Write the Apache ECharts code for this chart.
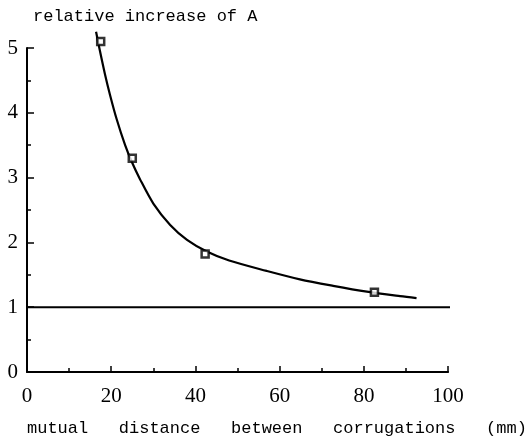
<!DOCTYPE html>
<html>
<head>
<meta charset="utf-8">
<script src="https://cdn.jsdelivr.net/npm/echarts@6/dist/echarts.min.js"></script>
<style>
  html, body { margin: 0; padding: 0; background: #fff; }
  #chart { width: 529px; height: 443px; }
</style>
</head>
<body>
<div id="chart"></div>
<script>
// measured points (mutual distance mm, relative increase)
const measured = [[17.5, 5.1], [25, 3.3], [42.3, 1.82], [82.5, 1.23]];
// fitted curve
const curve = [
  [16.4, 5.25], [17.3, 4.96], [18.5, 4.6], [19.7, 4.28], [21.3, 3.9],
  [23.3, 3.5], [24.9, 3.24], [26.8, 2.98], [30, 2.6], [34, 2.27],
  [38, 2.04], [42.7, 1.86], [48, 1.72], [56.9, 1.56], [64.8, 1.43],
  [72.7, 1.33], [80.7, 1.24], [88.6, 1.17], [92.5, 1.14]
];
// reference level
const baseline = [[0, 1], [101, 1]];

const serif = "Liberation Serif";
const mono = "Liberation Mono";

let chart = echarts.init(document.getElementById("chart"));
chart.setOption({
  animation: false,
  backgroundColor: "#fff",
  title: {
    text: "relative increase of A",
    left: 28,
    top: 3,
    textStyle: { fontFamily: mono, fontSize: 17, fontWeight: "normal", color: "#000" }
  },
  grid: { left: 27, right: 80, top: 48, bottom: 71 },
  xAxis: {
    type: "value",
    min: 0,
    max: 100,
    interval: 20,
    name: "mutual   distance   between   corrugations   (mm)",
    nameLocation: "start",
    nameGap: 0,
    nameTextStyle: {
      fontFamily: mono, fontSize: 17, color: "#000",
      align: "left", verticalAlign: "top", padding: [48, 0, 0, 0]
    },
    axisLine: { lineStyle: { color: "#000", width: 2 } },
    axisTick: { inside: true, length: 6, lineStyle: { color: "#000", width: 1.5 } },
    minorTick: { show: true, splitNumber: 2, length: 4, lineStyle: { color: "#000", width: 1.5 } },
    axisLabel: { fontFamily: serif, fontSize: 21, color: "#000", margin: 14 },
    splitLine: { show: false }
  },
  yAxis: {
    type: "value",
    min: 0,
    max: 5,
    interval: 1,
    axisLine: { show: true, lineStyle: { color: "#000", width: 2 } },
    axisTick: { show: true, inside: true, length: 7, lineStyle: { color: "#000", width: 1.5 } },
    minorTick: { show: true, splitNumber: 2, length: 4, lineStyle: { color: "#000", width: 1.5 } },
    axisLabel: { fontFamily: serif, fontSize: 21, color: "#000", margin: 9 },
    splitLine: { show: false }
  },
  series: [
    {
      type: "line",
      data: baseline,
      clip: false,
      symbol: "none",
      lineStyle: { color: "#000", width: 2 }
    },
    {
      type: "line",
      data: curve,
      clip: false,
      smooth: 0.3,
      symbol: "none",
      lineStyle: { color: "#000", width: 2.2 }
    },
    {
      type: "scatter",
      data: measured,
      clip: false,
      symbol: "rect",
      symbolSize: 7,
      itemStyle: { color: "#fff", borderColor: "#000", borderWidth: 2.5 },
      z: 5
    }
  ]
});
</script>
</body>
</html>
